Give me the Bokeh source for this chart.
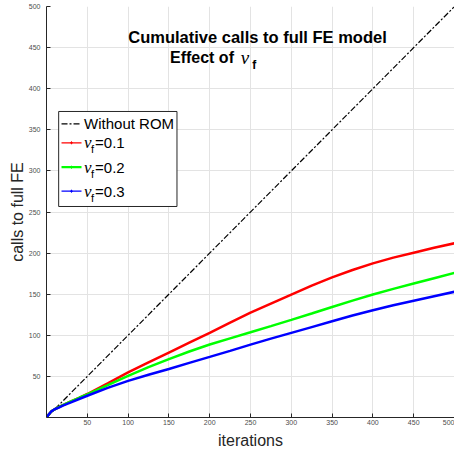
from bokeh.plotting import figure
from bokeh.models import FixedTicker, Label, Range1d
from bokeh.embed import file_html
from bokeh.resources import INLINE

# ---- data ----
iters = [0, 3, 6, 10, 15, 20, 30, 40, 50, 75, 100, 125, 150, 175, 200, 225,
         250, 275, 300, 325, 350, 375, 400, 425, 450, 475, 500]
calls_nu01 = [0, 4, 7.5, 10, 12.5, 15, 19.5, 24, 28.6, 41.5, 54.8, 67, 79, 91,
              103, 115.5, 127.5, 138.5, 149.5, 160.5, 170.5, 179.5, 187.5, 194.5, 200.5, 206.5, 212]
calls_nu02 = [0, 4, 7.5, 10, 12.5, 15, 19.5, 24, 28, 39.5, 50.7, 61.3, 71, 80.3,
              88.8, 96.3, 103.7, 111.2, 118.8, 126.6, 134.5, 142.2, 149.7, 156.5, 163, 169.5, 176]
calls_nu03 = [0, 4, 7.5, 10, 12, 14.5, 18.5, 22.5, 26.5, 36, 44.6, 52, 59, 66.5,
              73.7, 81, 88.6, 95.9, 103, 110, 117, 124, 130.5, 136.5, 142, 147.5, 153]
no_rom_x = [0, 500]
no_rom_y = [0, 500]
tick_values = [50, 100, 150, 200, 250, 300, 350, 400, 450, 500]

FONT = "Liberation Sans"

p = figure(width=454, height=451, output_backend="svg", toolbar_location=None,
           x_range=Range1d(0, 500), y_range=Range1d(0, 500),
           min_border_left=46, min_border_right=0, min_border_top=6,
           min_border_bottom=34)
p.outline_line_color = None
p.background_fill_color = "white"

for ax in (p.xaxis[0], p.yaxis[0]):
    ax.ticker = FixedTicker(ticks=tick_values)
    ax.axis_line_color = "#262626"
    ax.major_tick_line_color = "#262626"
    ax.major_tick_in = 4
    ax.major_tick_out = 0
    ax.minor_tick_line_color = None
    ax.major_label_text_font = FONT
    ax.major_label_text_font_size = "7px"
    ax.major_label_text_color = "#4d4d4d"
    ax.axis_label_text_font = FONT
    ax.axis_label_text_font_size = "16px"
    ax.axis_label_text_font_style = "normal"
    ax.axis_label_text_color = "#262626"
p.xaxis.major_label_standoff = 2
p.xaxis.axis_label_standoff = 4
p.yaxis.major_label_standoff = 6
p.yaxis.axis_label_standoff = 0
p.xaxis.axis_label = "iterations"
p.yaxis.axis_label = "calls to full FE"

p.grid.grid_line_color = "#e3e3e3"
p.grid.grid_line_width = 1
p.xgrid.ticker = FixedTicker(ticks=tick_values)
p.ygrid.ticker = FixedTicker(ticks=tick_values)

# ---- curves ----
p.line(no_rom_x, no_rom_y, line_color="black", line_width=1.2, line_dash="6 2 2 2")
p.line(iters, calls_nu01, line_color="#ff0000", line_width=2.5)
p.line(iters, calls_nu02, line_color="#00ff00", line_width=2.5)
p.line(iters, calls_nu03, line_color="#0000ff", line_width=2.5)

# ---- legend (manual, to allow the subscript) ----
p.quad(left=14.9, right=159.9, top=372.3, bottom=256.7, fill_color="white",
       line_color="#262626", line_width=1)
leg_y = [357.3, 334.2, 304.5, 275.3]
leg_colors = ["#ff0000", "#00ff00", "#0000ff"]
leg_vals = ["0.1", "0.2", "0.3"]
p.segment(x0=[18.4], x1=[42.9], y0=[leg_y[0]], y1=[leg_y[0]],
          line_color="black", line_width=1.2, line_dash="6 2 2 2")
p.segment(x0=[18.4, 18.4, 18.4], x1=[42.9, 42.9, 42.9], y0=leg_y[1:], y1=leg_y[1:],
          line_color=leg_colors, line_width=[1.2, 2.2, 1.2])
p.scatter(x=[30.6, 30.6, 30.6], y=leg_y[1:], marker="cross", size=3,
          line_color=leg_colors, line_width=1)
p.add_layout(Label(x=46, y=leg_y[0], text="Without ROM", text_font=FONT,
                   text_font_size="15px", text_baseline="middle",
                   text_color="black"))
for yy, vv in zip(leg_y[1:], leg_vals):
    p.add_layout(Label(x=46, y=yy, text="ν", text_font="Liberation Serif",
                       text_font_style="italic", text_font_size="17px",
                       text_baseline="middle", text_color="black"))
    p.add_layout(Label(x=54.5, y=yy - 8, text="f", text_font=FONT,
                       text_font_size="11px", text_baseline="middle",
                       text_color="black"))
    p.add_layout(Label(x=59.5, y=yy, text="=" + vv, text_font=FONT,
                       text_font_size="15px", text_baseline="middle",
                       text_color="black"))

# ---- title ----
p.add_layout(Label(x=258.6, y=463.5, text="Cumulative calls to full FE model",
                   text_font=FONT, text_font_style="bold", text_font_size="16.5px",
                   text_align="center", text_baseline="alphabetic",
                   text_color="black"))
p.add_layout(Label(x=151.3, y=438, text="Effect of", text_font=FONT,
                   text_font_style="bold", text_font_size="16px",
                   text_baseline="alphabetic", text_color="black"))
p.add_layout(Label(x=238, y=438, text="ν", text_font="Liberation Serif",
                   text_font_style="italic", text_font_size="19px",
                   text_baseline="alphabetic", text_color="black"))
p.add_layout(Label(x=252, y=429.4, text="f", text_font=FONT,
                   text_font_style="bold", text_font_size="12px",
                   text_baseline="alphabetic", text_color="black"))

open("out.html", "w").write(file_html(p, INLINE))
